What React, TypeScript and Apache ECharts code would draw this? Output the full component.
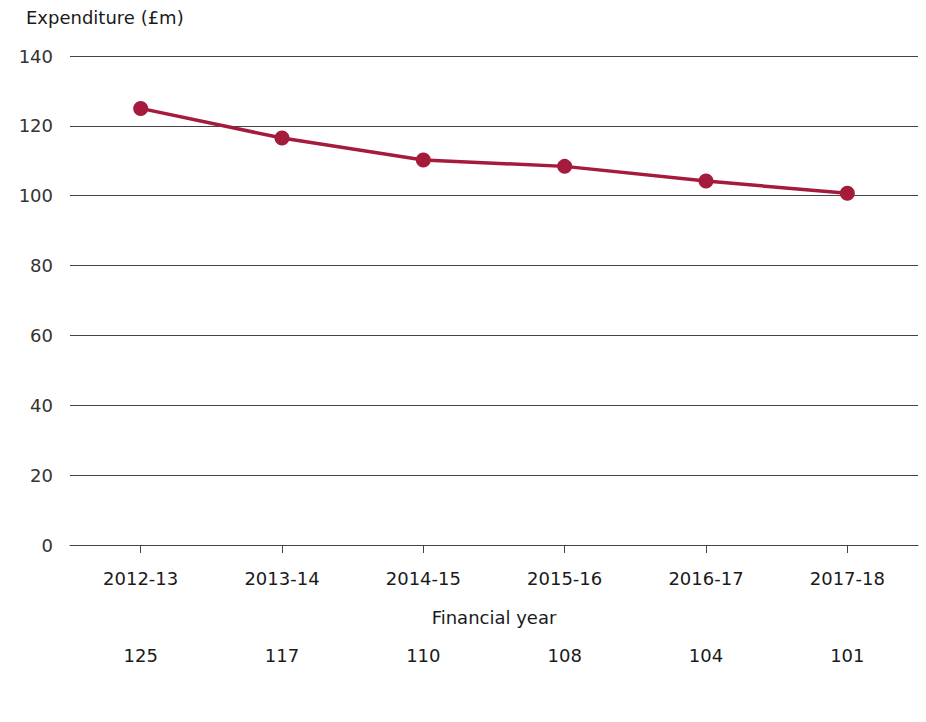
import React, { useEffect, useRef } from "react";
import * as echarts from "echarts";

const categories = ["2012-13", "2013-14", "2014-15", "2015-16", "2016-17", "2017-18"];
const expenditure = [125, 116.5, 110.2, 108.4, 104.2, 100.7];
const tableLabels = ["125", "117", "110", "108", "104", "101"];
const yTicks = { min: 0, max: 140, interval: 20 };

const FONT = "'DejaVu Sans', 'Liberation Sans', Arial, sans-serif";
const FS = 18;
const RED = "#a51b3b";

export default function App() {
  const ref = useRef<HTMLDivElement>(null);
  useEffect(() => {
    if (!ref.current) return;
    const chart = echarts.init(ref.current, undefined, { renderer: "svg" });
    chart.setOption({
      animation: false,
      backgroundColor: "#ffffff",
      textStyle: { fontFamily: FONT },
      title: {
        text: "Expenditure (£m)",
        left: 26,
        top: 8,
        padding: 0,
        textStyle: { fontFamily: FONT, fontSize: FS, fontWeight: "normal", color: "#1a1a1a" },
      },
      grid: { left: 70, right: 8, top: 56, bottom: 177, containLabel: false },
      xAxis: [
        {
          type: "category",
          data: categories,
          boundaryGap: true,
          position: "bottom",
          axisLine: { show: true, lineStyle: { color: "#444", width: 1 } },
          axisTick: { show: true, alignWithLabel: true, length: 8, lineStyle: { color: "#444" } },
          axisLabel: { margin: 24, fontSize: FS, color: "#1a1a1a", fontFamily: FONT },
          name: "Financial year",
          nameLocation: "middle",
          nameGap: 63,
          nameTextStyle: { fontSize: FS, color: "#1a1a1a", fontFamily: FONT },
        },
        {
          type: "category",
          data: tableLabels,
          boundaryGap: true,
          position: "bottom",
          axisLine: { show: false },
          axisTick: { show: false },
          splitLine: { show: false },
          axisLabel: { margin: 101, fontSize: FS, color: "#1a1a1a", fontFamily: FONT },
        },
      ],
      yAxis: {
        type: "value",
        min: yTicks.min,
        max: yTicks.max,
        interval: yTicks.interval,
        axisLine: { show: false },
        axisTick: { show: false },
        axisLabel: { margin: 17, fontSize: FS, color: "#333", fontFamily: FONT },
        splitLine: { show: true, lineStyle: { color: "#444", width: 1 } },
      },
      series: [
        {
          type: "line",
          xAxisIndex: 0,
          data: expenditure,
          symbol: "circle",
          symbolSize: 15,
          lineStyle: { color: RED, width: 3.5 },
          itemStyle: { color: RED },
          z: 5,
        },
      ],
    });
    return () => chart.dispose();
  }, []);
  return (
    <div
      ref={ref}
      style={{ position: "fixed", left: 0, top: 0, width: 926, height: 722, background: "#fff" }}
    />
  );
}
